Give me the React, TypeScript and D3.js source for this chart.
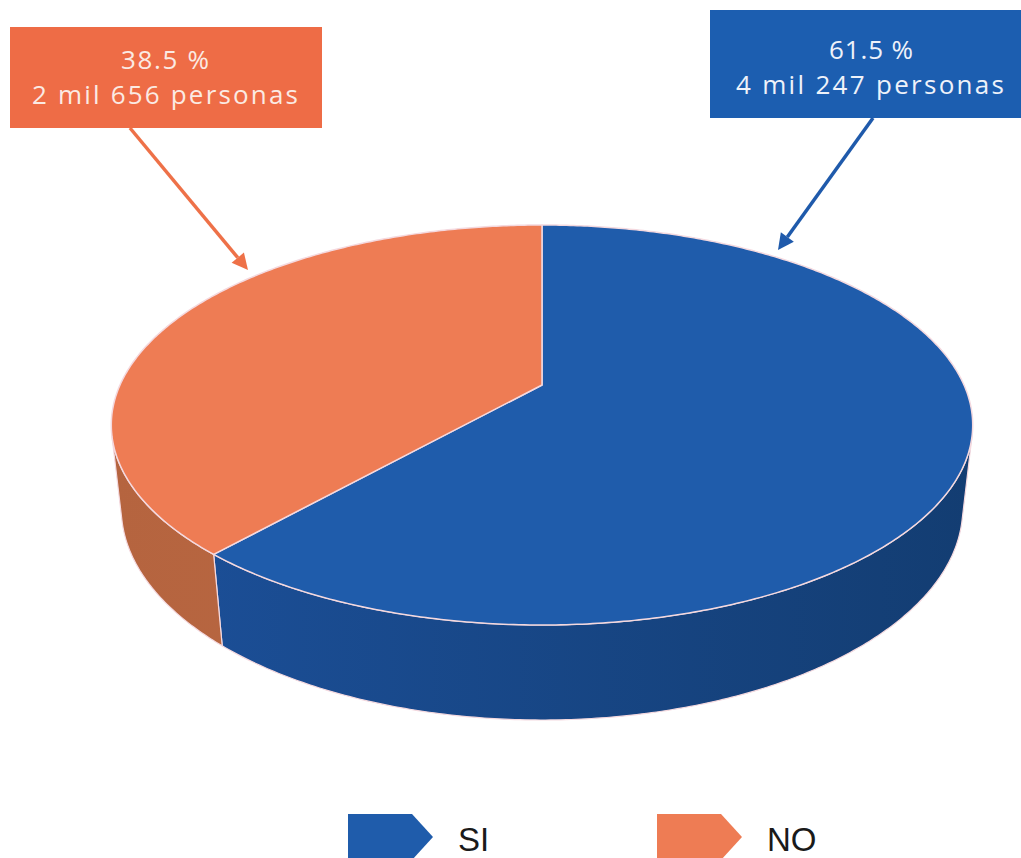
import React from "react";
import * as d3 from "d3";

// data
const categories = ["SI", "NO"];
const percents = [61.5, 38.5];
const persons = ["4 mil 247", "2 mil 656"];
const topColors = ["#1F5CAB", "#EE7C54"];
const sideColors = [["#1C509A", "#133D72"], ["#B5643F", "#C06C46"]];
const boxColors = ["#1C5EB0", "#EE6C46"];

const W = 1021, H = 858;

// perspective camera for the 3D pie
const cx = 542, cy = 385;
const alpha = Math.asin(192 / 422);
const D = Math.cos(alpha) / 0.2;
const F = 422 * D;
const T = 0.2225; // thickness of the pie
const v0 = 1 / (D * Math.cos(alpha));
const thR = Math.acos(-v0);
const thL = 2 * Math.PI - thR;

function proj(theta: number, y: number): [number, number] {
  const u = Math.sin(theta), v = -Math.cos(theta);
  const z = D - y * Math.sin(alpha) - v * Math.cos(alpha);
  return [cx + (F * u) / z, cy + (F * (v * Math.sin(alpha) - y * Math.cos(alpha))) / z];
}

function arcPts(a0: number, a1: number, y: number) {
  const n = Math.max(2, Math.ceil(Math.abs(a1 - a0) / 0.01));
  return d3.range(n + 1).map(i => proj(a0 + ((a1 - a0) * i) / n, y));
}

const line = d3.line();

function Arrow({ x1, y1, x2, y2, color }: { x1: number; y1: number; x2: number; y2: number; color: string }) {
  const ang = Math.atan2(y2 - y1, x2 - x1);
  const len = 16, half = 8;
  const bx = x2 - len * Math.cos(ang), by = y2 - len * Math.sin(ang);
  const px = -Math.sin(ang) * half, py = Math.cos(ang) * half;
  return (
    <g>
      <line x1={x1} y1={y1} x2={bx} y2={by} stroke={color} strokeWidth={3.5} />
      <path d={`M${x2},${y2}L${bx + px},${by + py}L${bx - px},${by - py}Z`} fill={color} />
    </g>
  );
}

export default function App() {
  const pie = d3.pie<number>().sort(null).startAngle(0).endAngle(2 * Math.PI);
  const arcs = pie(percents);

  const edge = "#F4D9DF";
  const labelFont = "'Open Sans', Lato, sans-serif";

  return (
    <svg width={W} height={H} style={{ position: "absolute", left: 0, top: 0, background: "#fff" }}>
      <defs>
        {sideColors.map((c, i) => (
          <linearGradient key={i} id={`side${i}`} gradientUnits="userSpaceOnUse" x1={108} y1={0} x2={970} y2={0}>
            <stop offset="0" stopColor={c[0]} />
            <stop offset="1" stopColor={c[1]} />
          </linearGradient>
        ))}
      </defs>

      {/* side walls */}
      {arcs.map((a, i) => {
        const s = Math.max(a.startAngle, thR), e = Math.min(a.endAngle, thL);
        if (s >= e) return null;
        const pts = arcPts(s, e, 0).concat(arcPts(e, s, -T));
        return <path key={"s" + i} d={line(pts) + "Z"} fill={`url(#side${i})`} stroke={edge} strokeWidth={1.2} />;
      })}

      {/* top face */}
      {arcs.map((a, i) => {
        const pts = ([[cx, cy]] as [number, number][]).concat(arcPts(a.startAngle, a.endAngle, 0));
        return <path key={"t" + i} d={line(pts) + "Z"} fill={topColors[i]} stroke={edge} strokeWidth={1.5} strokeLinejoin="round" />;
      })}

      {/* label boxes */}
      <rect x={10} y={27} width={312} height={101} fill={boxColors[1]} />
      <g fontFamily={labelFont} fontSize={26} fill="#FBEAE3" textAnchor="middle" lengthAdjust="spacingAndGlyphs">
        <text x={165} y={69} textLength={88}>{`${percents[1]} %`}</text>
        <text x={165} y={104} textLength={266}>{`${persons[1]} personas`}</text>
      </g>
      <rect x={710} y={10} width={311} height={108} fill={boxColors[0]} />
      <g fontFamily={labelFont} fontSize={26} fill="#EEF2FA" textAnchor="middle" lengthAdjust="spacingAndGlyphs">
        <text x={871} y={59} textLength={84}>{`${percents[0]} %`}</text>
        <text x={870} y={94} textLength={268}>{`${persons[0]} personas`}</text>
      </g>

      <Arrow x1={130} y1={128} x2={248} y2={270} color="#EE7148" />
      <Arrow x1={873} y1={118} x2={778} y2={250} color="#1F5AAB" />

      {/* legend */}
      {categories.map((c, i) => {
        const x = 348 + i * 309;
        const pts: [number, number][] = [[x, 814], [x + 64, 814], [x + 85, 837], [x + 64, 860], [x, 860]];
        return (
          <g key={c}>
            <path d={line(pts) + "Z"} fill={topColors[i]} />
            <text x={x + 110} y={851} fontFamily="'Liberation Sans', Arial, sans-serif" fontSize={33} fill="#1a1a1a">{c}</text>
          </g>
        );
      })}
    </svg>
  );
}
